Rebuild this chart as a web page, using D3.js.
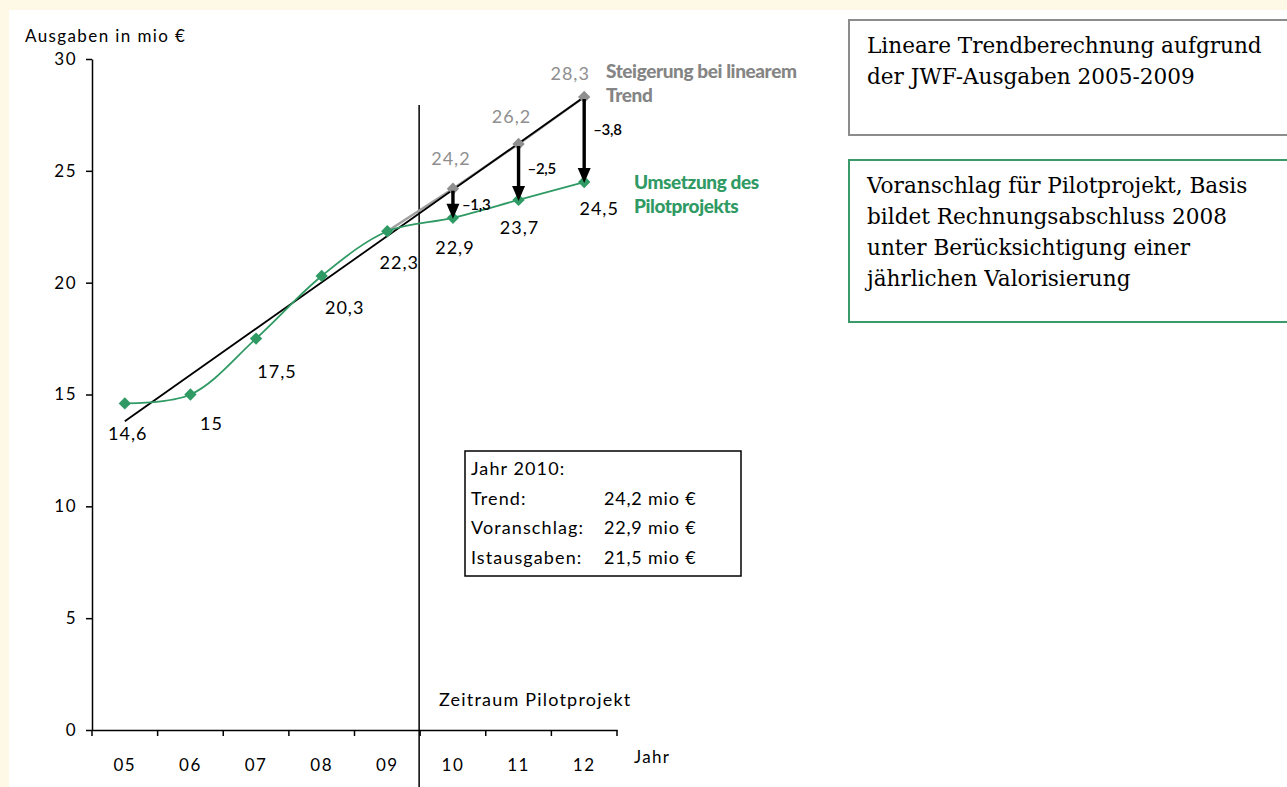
<!DOCTYPE html>
<html>
<head>
<meta charset="utf-8">
<script src="https://cdn.jsdelivr.net/npm/d3@7"></script>
<style>
  body { margin: 0; background: #fef8e6; }
  svg { display: block; }
</style>
</head>
<body>
<div id="chart"></div>
<script>
// data
const years = ["05", "06", "07", "08", "09", "10", "11", "12"];
const spend = [14.6, 15, 17.5, 20.3, 22.3, 22.9, 23.7, 24.5];
const spendLabels = ["14,6", "15", "17,5", "20,3", "22,3", "22,9", "23,7", "24,5"];
const trendYears = ["09", "10", "11", "12"];
const trendValues = [22.3, 24.2, 26.2, 28.3];
const trendLabels = ["", "24,2", "26,2", "28,3"];
const trendLineYears = ["05", "12"];
const trendLineValues = [13.8, 28.3];
const diffYears = ["10", "11", "12"];
const diffLabels = ["–1,3", "–2,5", "–3,8"];
const yTicks = [0, 5, 10, 15, 20, 25, 30];
const infoRows = [["Jahr 2010:", ""], ["Trend:", "24,2 mio €"], ["Voranschlag:", "22,9 mio €"], ["Istausgaben:", "21,5 mio €"]];

const width = 1287, height = 787;
const green = "#2f9a64", grey = "#8f8f8f";
const font = "Lato, 'Open Sans', sans-serif";
const serif = "'DejaVu Serif', 'Liberation Serif', serif";

const svg = d3.select("#chart").append("svg").attr("width", width).attr("height", height);
svg.append("rect").attr("x", 9).attr("y", 10).attr("width", width - 9).attr("height", height - 10).attr("fill", "#fff");

const x = d3.scaleBand().domain(years).range([92, 617]);
const y = d3.scaleLinear().domain([0, 30]).range([730, 59]);
const cx = (d) => x(d) + x.bandwidth() / 2;

// axes
const yAxisG = svg.append("g").attr("transform", "translate(92,0)")
  .call(d3.axisLeft(y).tickValues(yTicks).tickSize(6).tickPadding(9).tickSizeOuter(0));
const xAxisG = svg.append("g").attr("transform", "translate(0,730)")
  .call(d3.axisBottom(x).tickSize(0).tickPadding(29).tickSizeOuter(0));
[yAxisG, xAxisG].forEach((g) => {
  g.select(".domain").attr("stroke", "#000").attr("stroke-width", 1.5);
  g.selectAll("line").attr("stroke", "#000").attr("stroke-width", 1.5);
  g.selectAll("text").attr("font-family", font).attr("font-size", 17)
    .attr("letter-spacing", 1.5).attr("fill", "#000");
});
// band boundary ticks on x axis
xAxisG.selectAll(".bound").data(years.concat(["end"])).join("line")
  .attr("x1", (d, i) => x.range()[0] + i * x.step())
  .attr("x2", (d, i) => x.range()[0] + i * x.step())
  .attr("y1", 0).attr("y2", 6).attr("stroke", "#000").attr("stroke-width", 1.5);

svg.append("text").attr("x", 25).attr("y", 42).attr("font-family", font).attr("font-size", 17)
  .attr("letter-spacing", 1.4).text("Ausgaben in mio €");
svg.append("text").attr("x", 634).attr("y", 763).attr("font-family", font).attr("font-size", 17)
  .attr("letter-spacing", 1.3).text("Jahr");

// divider for pilot period
const divX = x("10") - 1;
svg.append("line").attr("x1", divX).attr("x2", divX).attr("y1", 105).attr("y2", height)
  .attr("stroke", "#000").attr("stroke-width", 1.5);
svg.append("text").attr("x", 439).attr("y", 706).attr("font-family", font).attr("font-size", 18)
  .attr("letter-spacing", 1.2).text("Zeitraum Pilotprojekt");

// grey trend series
svg.append("path")
  .attr("d", d3.line().x((d) => cx(d)).y((d, i) => y(trendValues[i]))(trendYears))
  .attr("fill", "none").attr("stroke", "#a0a0a0").attr("stroke-width", 2.5);

// linear trend
svg.append("path")
  .attr("d", d3.line().x((d) => cx(d)).y((d, i) => y(trendLineValues[i]))(trendLineYears))
  .attr("fill", "none").attr("stroke", "#000").attr("stroke-width", 1.8);

// green series
svg.append("path")
  .attr("d", d3.line().curve(d3.curveCatmullRom.alpha(0.5)).x((d) => cx(d)).y((d, i) => y(spend[i]))(years))
  .attr("fill", "none").attr("stroke", green).attr("stroke-width", 1.8);

const diamond = d3.symbol().type(d3.symbolSquare).size(76);
svg.append("g").selectAll("path").data(trendYears.slice(1)).join("path")
  .attr("d", diamond)
  .attr("transform", (d) => `translate(${cx(d)},${y(trendValues[trendYears.indexOf(d)])}) rotate(45)`)
  .attr("fill", grey);
svg.append("g").selectAll("path").data(years).join("path")
  .attr("d", diamond)
  .attr("transform", (d, i) => `translate(${cx(d)},${y(spend[i])}) rotate(45)`)
  .attr("fill", green);

// arrows trend -> Voranschlag
const arrowG = svg.append("g");
diffYears.forEach((d, i) => {
  const xx = cx(d);
  const y0 = y(trendValues[trendYears.indexOf(d)]) + 2;
  const y1 = y(spend[years.indexOf(d)]);
  arrowG.append("line").attr("x1", xx).attr("x2", xx).attr("y1", y0).attr("y2", y1 - 10)
    .attr("stroke", "#000").attr("stroke-width", 3.4);
  arrowG.append("path")
    .attr("d", `M${xx - 6.5},${y1 - 14}L${xx + 6.5},${y1 - 14}L${xx},${y1 + 1}Z`)
    .attr("fill", "#000");
  arrowG.append("text").attr("x", xx + 9).attr("y", (y0 + y1) / 2 + [6, 1, -6][i])
    .attr("font-family", font).attr("font-size", 15).attr("font-weight", 600)
    .attr("letter-spacing", -0.3).text(diffLabels[i]);
});

// value labels
const spendOff = [[3, 37], [21, 35], [21, 39], [23, 38], [12, 38], [2, 36], [1, 34], [15, 33]];
svg.append("g").selectAll("text").data(years).join("text")
  .attr("x", (d, i) => cx(d) + spendOff[i][0])
  .attr("y", (d, i) => y(spend[i]) + spendOff[i][1])
  .attr("text-anchor", "middle").attr("font-family", font).attr("font-size", 18)
  .attr("letter-spacing", 1).text((d, i) => spendLabels[i]);
const trendOff = [[0, 0], [-2, -24], [-7, -21], [-14, -17]];
svg.append("g").selectAll("text").data(trendYears).join("text")
  .attr("x", (d, i) => cx(d) + trendOff[i][0])
  .attr("y", (d, i) => y(trendValues[i]) + trendOff[i][1])
  .attr("text-anchor", "middle").attr("font-family", font).attr("font-size", 18)
  .attr("letter-spacing", 1).attr("fill", grey).text((d, i) => trendLabels[i]);

// series legends
const legend = (lines, x0, y0, color) => {
  const t = svg.append("text").attr("font-family", font).attr("font-size", 19)
    .attr("font-weight", 900).attr("letter-spacing", -0.4).attr("fill", color);
  lines.forEach((l, i) => t.append("tspan").attr("x", x0).attr("y", y0 + i * 24).text(l));
};
legend(["Steigerung bei linearem", "Trend"], 606, 78, "#858585");
legend(["Umsetzung des", "Pilotprojekts"], 634, 189, green);

// info box for 2010
svg.append("rect").attr("x", 465).attr("y", 451).attr("width", 276).attr("height", 125)
  .attr("fill", "#fff").attr("stroke", "#000").attr("stroke-width", 1.5);
infoRows.forEach((r, i) => {
  svg.append("text").attr("x", 471).attr("y", 475 + i * 29.5).attr("font-family", font)
    .attr("font-size", 18).attr("letter-spacing", 1.1).text(r[0]);
  svg.append("text").attr("x", 604).attr("y", 475 + i * 29.5).attr("font-family", font)
    .attr("font-size", 18).attr("letter-spacing", 0.8).text(r[1]);
});

// note boxes on the right
const note = (lines, y0, h, color) => {
  svg.append("rect").attr("x", 849).attr("y", y0).attr("width", 460).attr("height", h)
    .attr("fill", "#fff").attr("stroke", color).attr("stroke-width", 2);
  lines.forEach((l, i) => svg.append("text").attr("x", 867).attr("y", y0 + 33 + i * 31)
    .attr("font-family", serif).attr("font-size", 21.6).text(l));
};
note(["Lineare Trendberechnung aufgrund", "der JWF-Ausgaben 2005-2009"], 20, 115, "#8c8c8c");
note(["Voranschlag für Pilotprojekt, Basis", "bildet Rechnungsabschluss 2008",
  "unter Berücksichtigung einer", "jährlichen Valorisierung"], 160, 162, "#3a9a6a");
</script>
</body>
</html>
